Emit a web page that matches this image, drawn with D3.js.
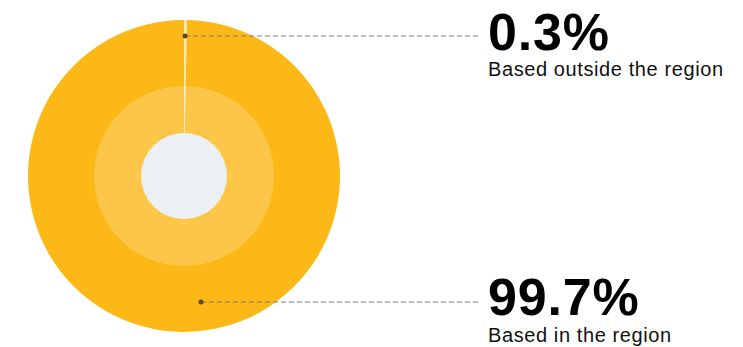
<!DOCTYPE html>
<html><head><meta charset="utf-8">
<script src="https://cdn.jsdelivr.net/npm/d3@7"></script>
<style>body{margin:0;background:#fff;}svg{display:block;font-family:"Liberation Sans",Arial,Helvetica,sans-serif;}</style>
</head><body>
<svg id="c" width="743" height="347"></svg>
<script>
const categories = ["Based outside the region", "Based in the region"];
const values = [0.3, 99.7];
const valueLabels = ["0.3%", "99.7%"];
const colors = ["#FDE6AE", "#FBB817"];

const svg = d3.select("#c");
const cx = 184, cy = 176, R = 156, Rmid = 90, Rin = 43;
const g = svg.append("g").attr("transform", `translate(${cx},${cy})`);

const pie = d3.pie().sort(null).value(d => d.v);
const data = pie(values.map((v, i) => ({v, i})));
const arc = d3.arc().innerRadius(0).outerRadius(R);
g.selectAll("path.s").data(data).join("path").attr("class","s")
  .attr("d", arc).attr("fill", d => colors[d.data.i]);
g.append("circle").attr("r", Rmid).attr("fill", "#ffffff").attr("fill-opacity", 0.22);
g.append("circle").attr("r", Rin).attr("fill", "#EBF0F4");

// annotations
const ann = [
  {i:0, dot:[185, 36], textY: 50, subY: 76},
  {i:1, dot:[201, 302], textY: 315, subY: 342}
];
const tx = 488, lineEnd = 478;
ann.forEach(a => {
  svg.append("line").attr("x1", a.dot[0]).attr("y1", a.dot[1]).attr("x2", lineEnd).attr("y2", a.dot[1])
    .attr("stroke", "#7d7d7d").attr("stroke-width", 1).attr("stroke-dasharray", "5,3");
  svg.append("circle").attr("cx", a.dot[0]).attr("cy", a.dot[1]).attr("r", 2.5).attr("fill", "#5a4a2a");
  svg.append("text").attr("x", tx).attr("y", a.textY).attr("font-size", 52).attr("font-weight", "bold")
    .attr("fill", "#000").attr("letter-spacing", 0.8).text(valueLabels[a.i]);
  svg.append("text").attr("x", tx).attr("y", a.subY).attr("font-size", 20)
    .attr("fill", "#111").attr("letter-spacing", 0.6).text(categories[a.i]);
});
</script>
</body></html>
